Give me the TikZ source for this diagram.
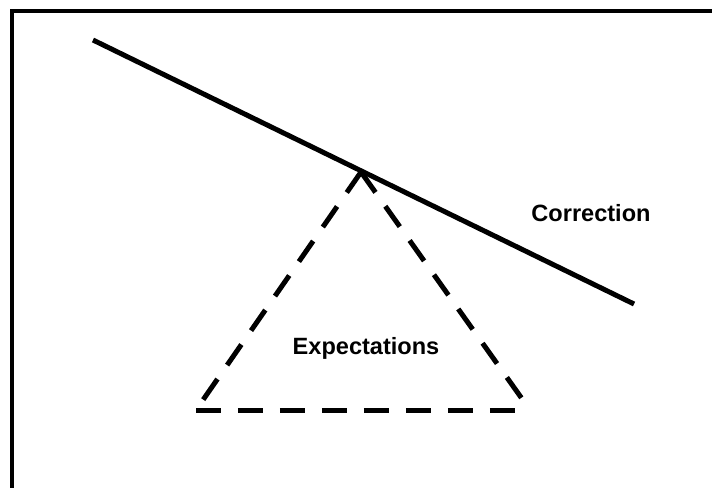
\documentclass[tikz,border=0pt]{standalone}
\usepackage{fontspec}
\setmainfont{Liberation Sans}
\begin{document}
\begin{tikzpicture}[
    x=0.02cm, y=-0.02cm,
    myframe/.style={draw=black, line width=0.075cm},
    myline/.style={draw=black, line width=0.1cm},
    mydash/.style={draw=black, line width=0.1cm, dash pattern=on 0.5cm off 0.34cm},
    mylabel/.style={font=\bfseries\fontsize{13.4}{16}\selectfont}
]
    % Page and frame
    \useasboundingbox (0, 0) rectangle (712, 487);
    \clip (0, 0) rectangle (712, 487);
    \draw[myframe] (12, 11) rectangle (760, 540);

    % Correction line
    \coordinate (cstart) at (93, 40);
    \coordinate (cend) at (634, 304);
    \draw[myline] (cstart) -- (cend);
    \node[mylabel] (corr) at (591, 213) {Correction};

    % Expectations triangle
    \coordinate (apex) at (361, 172);
    \coordinate (left) at (196, 410);
    \coordinate (right) at (530, 410);
    \draw[mydash] (left) -- (right);
    \draw[mydash] (apex) -- (left);
    \draw[mydash] (apex) -- (right);
    \node[mylabel] (expect) at (366, 348) {Expectations};
\end{tikzpicture}
\end{document}
